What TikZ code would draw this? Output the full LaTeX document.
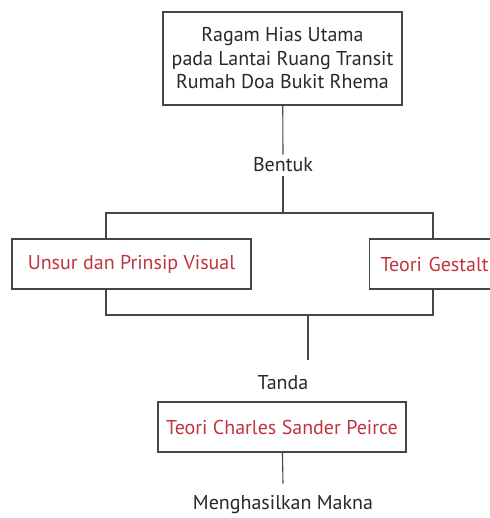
\documentclass[tikz,border=0pt]{standalone}
\usepackage{fontspec}
\setmainfont{PT Sans}
\usepackage{tikz}
\usetikzlibrary{positioning}
\definecolor{merah}{RGB}{192,52,62}
\definecolor{garis}{RGB}{70,70,70}
\definecolor{teks}{RGB}{40,40,40}

\begin{document}
\begin{tikzpicture}[x=1pt,y=-1pt,kotak/.style={draw=garis,line width=1.1pt,rectangle,inner sep=0pt,text=merah,font=\fontsize{20}{23.5}\selectfont},lbl/.style={inner sep=0pt,text=teks,font=\fontsize{20}{23.5}\selectfont},hub/.style={draw=garis,line width=1.1pt}]
			\useasboundingbox (0,0) rectangle (489,518);
			\node[kotak,text=teks,minimum width=239pt,minimum height=93pt,align=center] (judul) at (282.5,58.5) {Ragam Hias Utama\\pada Lantai Ruang Transit\\Rumah Doa Bukit Rhema};
			\node[lbl] (bentuk) at (283,165) {Bentuk};

			\node[kotak,minimum width=239pt,minimum height=50pt] (unsur) at (131.5,264) {Unsur dan Prinsip Visual};
			\node[kotak,inner xsep=11pt,text width=110pt,align=left,minimum height=50pt,anchor=west] (gestalt) at (369,264) {Teori Gestalt};

			\node[lbl] (tanda) at (283,383) {Tanda};
			\node[kotak,minimum width=248pt,minimum height=50pt] (peirce) at (282,427) {Teori Charles Sander Peirce};
			\node[lbl] (makna) at (283,505) {Menghasilkan Makna};

			\coordinate (atasKi) at (106,213);
			\coordinate (atasKa) at (433,213);
			\coordinate (bawahKi) at (106,315);
			\coordinate (bawahKa) at (433,315);
			\coordinate (turun) at (308,315);
			\coordinate (ujung) at (308,360);

			\draw[hub] (judul) -- ([yshift=3pt]bentuk.north);
			\draw[hub] ([yshift=-4pt]bentuk.south) -- (bentuk |- atasKi);
			\draw[hub] (unsur.north -| atasKi) -- (atasKi) -- (atasKa) -- (gestalt.north -| atasKa);
			\draw[hub] (unsur.south -| bawahKi) -- (bawahKi) -- (bawahKa) -- (gestalt.south -| bawahKa);
			\draw[hub] (turun) -- (ujung);
			\draw[hub] (peirce) -- ([yshift=12pt]makna.north);
		\end{tikzpicture}
\end{document}
